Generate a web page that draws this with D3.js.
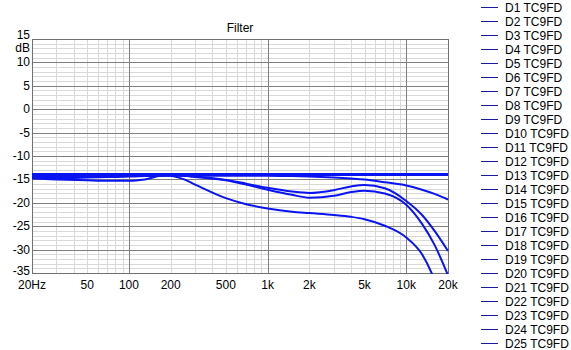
<!DOCTYPE html>
<html>
<head>
<meta charset="utf-8">
<script src="https://cdn.jsdelivr.net/npm/d3@7"></script>
<style>
  body { margin: 0; background: #fff; }
  text { font-family: "Liberation Sans", Arial, sans-serif; font-size: 12px; fill: #000; }
</style>
</head>
<body>
<div id="chart"></div>
<script>

////////////////////////////////////////////////////////////
// Data
////////////////////////////////////////////////////////////

let freqs = [20, 30, 50, 70, 100, 130, 180, 250, 300, 500, 700, 1000, 1500, 2000, 3000, 4000, 5000, 7000, 10000, 13000, 16000, 20000]

// distinct response shapes (dB)
let flat_top = [-14.0, -14.0, -14.0, -14.0, -14.0, -14.0, -14.0, -14.0, -14.0, -14.0, -14.0, -14.0, -14.0, -14.0, -14.0, -14.0, -14.0, -14.0, -14.0, -14.0, -14.0, -14.0]
let flat_mid = [-14.4, -14.4, -14.35, -14.3, -14.25, -14.2, -14.1, -14.05, -14.0, -14.0, -14.0, -14.0, -14.0, -14.0, -14.0, -14.0, -14.0, -14.0, -14.0, -14.0, -14.0, -14.0]
let flat_low = [-14.7, -14.7, -14.6, -14.5, -14.4, -14.3, -14.1, -14.05, -14.0, -14.0, -14.0, -14.0, -14.0, -14.0, -14.0, -14.0, -14.0, -14.0, -14.0, -14.0, -14.0, -14.0]
let shelf = [-14.2, -14.2, -14.2, -14.2, -14.2, -14.2, -14.2, -14.2, -14.2, -14.2, -14.2, -14.2, -14.3, -14.4, -14.6, -14.8, -15.0, -15.6, -16.3, -17.2, -18.1, -19.3]
let bump_hi = [-14.3, -14.3, -14.3, -14.3, -14.2, -14.1, -14.0, -14.2, -14.4, -15.1, -15.9, -16.8, -17.6, -17.9, -17.3, -16.5, -16.2, -16.9, -19.6, -22.6, -26.0, -30.3]
let bump_lo = [-14.5, -14.5, -14.5, -14.4, -14.3, -14.2, -14.0, -14.2, -14.5, -15.2, -16.1, -17.2, -18.3, -18.9, -18.5, -17.7, -17.4, -18.0, -20.4, -24.5, -29.0, -35.5]
let roll_off = [-14.8, -15.0, -15.2, -15.3, -15.3, -15.0, -14.1, -15.0, -16.1, -19.0, -20.3, -21.2, -21.9, -22.2, -22.6, -23.0, -23.5, -24.9, -27.4, -31.0, -36.5, -45.0]

let series_names = ['D1', 'D2', 'D3', 'D4', 'D5', 'D6', 'D7', 'D8', 'D9', 'D10', 'D11', 'D12', 'D13',
  'D14', 'D15', 'D16', 'D17', 'D18', 'D19', 'D20', 'D21', 'D22', 'D23', 'D24', 'D25']
let series_values = [flat_top, flat_mid, flat_low, flat_top, flat_top, flat_mid, flat_top, flat_top, flat_top, flat_top,
  flat_top, flat_top, flat_top, flat_top, flat_top, flat_top, flat_top, flat_top, flat_top, flat_top,
  shelf, bump_hi, bump_lo, roll_off, flat_top]

let y_ticks = [15, 10, 5, 0, -5, -10, -15, -20, -25, -30, -35]
let x_ticks = [20, 50, 100, 200, 500, 1000, 2000, 5000, 10000, 20000]
let x_tick_labels = ['20Hz', '50', '100', '200', '500', '1k', '2k', '5k', '10k', '20k']

////////////////////////////////////////////////////////////
// Layout
////////////////////////////////////////////////////////////

let W = 571
let H = 350
let plot = { left: 32, top: 39, right: 448, bottom: 273 }

let svg = d3.select('#chart')
  .append('svg')
  .attr('width', W)
  .attr('height', H)

let x = d3.scaleLog()
  .domain([20, 20000])
  .range([plot.left, plot.right])

let y = d3.scaleLinear()
  .domain([-35, 15])
  .range([plot.bottom, plot.top])

// Minor grid
let minor_x = []
for (let dec of [10, 100, 1000, 10000]) {
  for (let m = 2; m <= 9; m++) {
    let f = dec * m
    if (f > 20 && f < 20000) minor_x.push(f)
  }
}
let minor_y = d3.range(-34, 15).filter(v => v % 5 != 0)

let grid = svg.append('g').attr('shape-rendering', 'crispEdges')

grid.selectAll('.minor-x')
  .data(minor_x)
  .enter()
  .append('line')
    .attr('x1', d => Math.round(x(d)) + 0.5)
    .attr('x2', d => Math.round(x(d)) + 0.5)
    .attr('y1', plot.top)
    .attr('y2', plot.bottom)
    .attr('stroke', '#d9d9d9')

grid.selectAll('.minor-y')
  .data(minor_y)
  .enter()
  .append('line')
    .attr('x1', plot.left)
    .attr('x2', plot.right)
    .attr('y1', d => Math.round(y(d)) + 0.5)
    .attr('y2', d => Math.round(y(d)) + 0.5)
    .attr('stroke', '#d9d9d9')

// Major grid
grid.selectAll('.major-x')
  .data([100, 1000, 10000])
  .enter()
  .append('line')
    .attr('x1', d => Math.round(x(d)) + 0.5)
    .attr('x2', d => Math.round(x(d)) + 0.5)
    .attr('y1', plot.top)
    .attr('y2', plot.bottom)
    .attr('stroke', '#808080')

grid.selectAll('.major-y')
  .data(y_ticks.filter(d => d > -35 && d < 15))
  .enter()
  .append('line')
    .attr('x1', plot.left)
    .attr('x2', plot.right)
    .attr('y1', d => Math.round(y(d)) + 0.5)
    .attr('y2', d => Math.round(y(d)) + 0.5)
    .attr('stroke', '#808080')

// Frame
grid.append('rect')
  .attr('x', plot.left + 0.5)
  .attr('y', plot.top + 0.5)
  .attr('width', plot.right - plot.left)
  .attr('height', plot.bottom - plot.top)
  .attr('fill', 'none')
  .attr('stroke', '#707070')

////////////////////////////////////////////////////////////
// Curves
////////////////////////////////////////////////////////////

svg.append('clipPath')
  .attr('id', 'plot-clip')
  .append('rect')
    .attr('x', plot.left)
    .attr('y', plot.top)
    .attr('width', plot.right - plot.left + 1)
    .attr('height', plot.bottom - plot.top + 1)

let line = d3.line()
  .x((d, i) => x(freqs[i]))
  .y(d => y(d))
  .curve(d3.curveMonotoneX)

svg.append('g')
  .attr('clip-path', 'url(#plot-clip)')
  .selectAll('path')
  .data(series_values)
  .enter()
  .append('path')
    .attr('d', d => line(d))
    .attr('fill', 'none')
    .attr('stroke', '#0a14f0')
    .attr('stroke-width', 2)

////////////////////////////////////////////////////////////
// Text
////////////////////////////////////////////////////////////

svg.append('text')
  .attr('x', (plot.left + plot.right) / 2)
  .attr('y', 32)
  .attr('text-anchor', 'middle')
  .text('Filter')

// y labels sit on their line, the end ones nudged inward
svg.selectAll('.y-label')
  .data(y_ticks)
  .enter()
  .append('text')
    .attr('x', 30)
    .attr('y', d => y(d) + (d == 15 ? 0 : d == -35 ? 2 : 4))
    .attr('text-anchor', 'end')
    .text(d => d)

svg.append('text')
  .attr('x', 30)
  .attr('y', 52)
  .attr('text-anchor', 'end')
  .text('dB')

svg.selectAll('.x-label')
  .data(x_ticks)
  .enter()
  .append('text')
    .attr('x', d => x(d))
    .attr('y', 289)
    .attr('text-anchor', 'middle')
    .text((d, i) => x_tick_labels[i])

// Legend
let legend = svg.selectAll('.legend')
  .data(series_names)
  .enter()
  .append('g')
    .attr('transform', (d, i) => `translate(0, ${7 + i * 14})`)

legend.append('line')
  .attr('x1', 481)
  .attr('x2', 498)
  .attr('y1', 0.5)
  .attr('y2', 0.5)
  .attr('stroke', '#1a1a9a')
  .attr('shape-rendering', 'crispEdges')

legend.append('text')
  .attr('x', 505)
  .attr('y', 4.5)
  .text(d => d + ' TC9FD')

</script>
</body>
</html>
